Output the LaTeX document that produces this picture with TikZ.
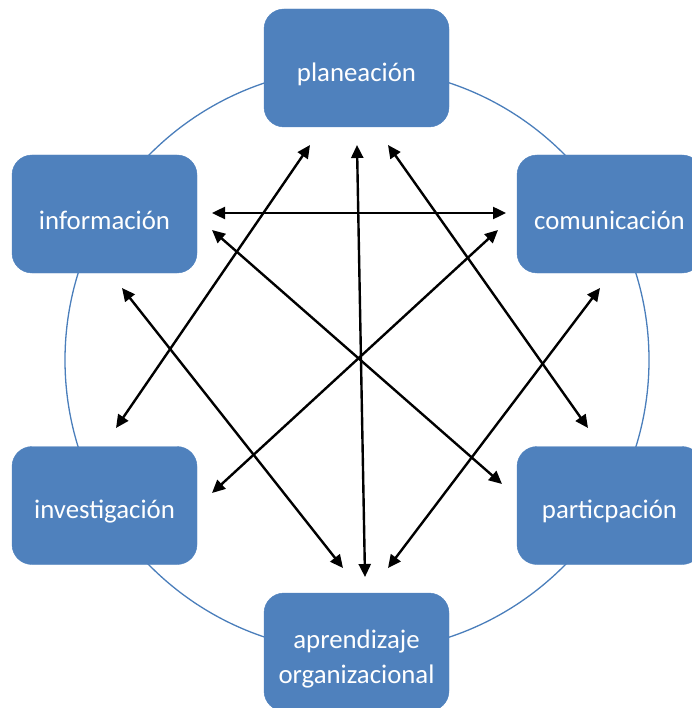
\documentclass[tikz,border=0pt]{standalone}
\usepackage{fontspec}
\setmainfont{Carlito}
\usetikzlibrary{arrows.meta}
\definecolor{boxblue}{HTML}{4F81BD}
\definecolor{ringblue}{HTML}{4A7EBB}
\begin{document}
\begin{tikzpicture}[x=1pt,y=-1pt,
  box/.style={rectangle, rounded corners=20pt, fill=boxblue, draw=boxblue,
    minimum width=185pt, minimum height=118pt, inner sep=0pt},
  lbl/.style={text=white, inner sep=0pt, font=\fontsize{26.8}{35}\selectfont, align=center},
  link/.style={line width=2.4pt, {Triangle[length=13pt,width=12pt]}-{Triangle[length=13pt,width=12pt]}}]
\useasboundingbox (0,0) rectangle (691,708);
\draw[ringblue, line width=1.3pt] (357,360) circle[radius=292];
\node[box] (pl) at (356.5,68) {};
\node[box] (inf) at (104.5,214) {};
\node[box] (com) at (609.5,214) {};
\node[box] (inv) at (104.5,505.5) {};
\node[box] (par) at (609.5,505.5) {};
\node[box] (apr) at (356.5,652) {};
\node[lbl] (plt) at ([yshift=-6pt]pl.center) {planeación};
\node[lbl] (inft) at ([yshift=-6pt]inf.center) {información};
\node[lbl] (comt) at ([yshift=-6pt]com.center) {comunicación};
\node[lbl] (invt) at ([yshift=-6pt]inv.center) {investigación};
\node[lbl] (part) at ([yshift=-6pt]par.center) {particpación};
\node[lbl] (aprt) at ([yshift=-7pt]apr.center) {aprendizaje\\organizacional};
% arrow ends
\coordinate (pl1) at (310,145);
\coordinate (pl2) at (357,145);
\coordinate (pl3) at (388,145);
\coordinate (inf1) at (212,213);
\coordinate (inf2) at (212,230);
\coordinate (inf3) at (122,288);
\coordinate (com1) at (506,213);
\coordinate (com2) at (498,230);
\coordinate (com3) at (600,288);
\coordinate (inv1) at (116,428);
\coordinate (inv2) at (212,493);
\coordinate (par1) at (588,428);
\coordinate (par2) at (502,484);
\coordinate (apr1) at (343,568);
\coordinate (apr2) at (365,577);
\coordinate (apr3) at (388,568);
\draw[link] (inf1) -- (com1);
\draw[link] (pl1) -- (inv1);
\draw[link] (pl2) -- (apr2);
\draw[link] (pl3) -- (par1);
\draw[link] (inf2) -- (par2);
\draw[link] (com2) -- (inv2);
\draw[link] (inf3) -- (apr1);
\draw[link] (com3) -- (apr3);
\end{tikzpicture}
\end{document}
